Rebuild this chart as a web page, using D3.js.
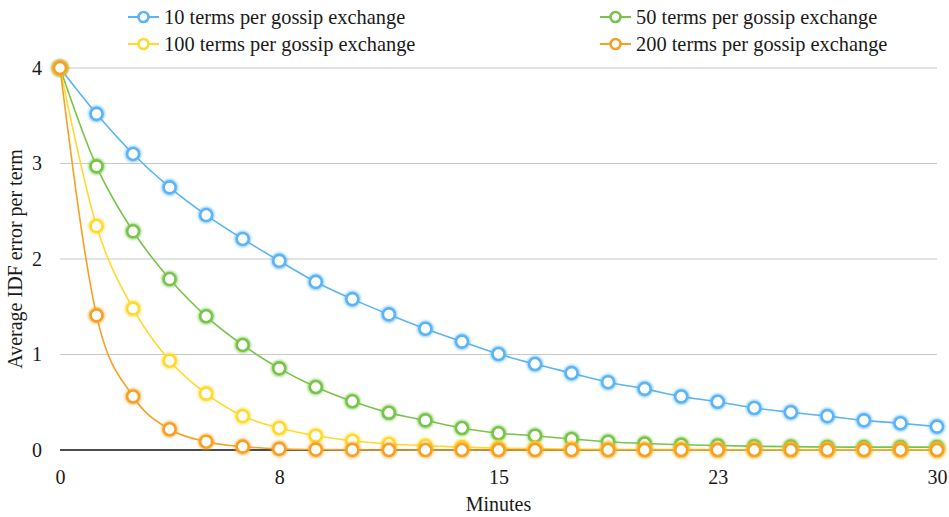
<!DOCTYPE html>
<html>
<head>
<meta charset="utf-8">
<script src="https://cdn.jsdelivr.net/npm/d3@7/dist/d3.min.js"></script>
<style>
  html, body { margin: 0; padding: 0; background: #fff; }
  svg { display: block; }
</style>
</head>
<body>
<svg id="chart" width="949" height="517"></svg>
<script>
// Minutes sampled every 1.25 min over half an hour
const minutes = d3.range(0, 25).map(i => i * 1.25);

const seriesNames = [
  "10 terms per gossip exchange",
  "50 terms per gossip exchange",
  "100 terms per gossip exchange",
  "200 terms per gossip exchange"
];
const seriesColors = ["#5AB4F5", "#78C44B", "#FFD92E", "#F7A024"];

const err10 = [4.00, 3.52, 3.10, 2.75, 2.46, 2.21, 1.98, 1.76, 1.58, 1.42, 1.27, 1.135, 1.005,
               0.90, 0.805, 0.71, 0.64, 0.56, 0.505, 0.44, 0.395, 0.355, 0.31, 0.28, 0.245];
const err50 = [4.00, 2.97, 2.29, 1.79, 1.40, 1.10, 0.855, 0.66, 0.51, 0.39, 0.31, 0.23, 0.175,
               0.15, 0.115, 0.087, 0.068, 0.055, 0.047, 0.04, 0.035, 0.032, 0.03, 0.03, 0.03];
const err100 = [4.00, 2.345, 1.48, 0.935, 0.59, 0.355, 0.23, 0.15, 0.097, 0.063, 0.045, 0.03, 0.02,
                0.014, 0.01, 0.007, 0.005, 0.004, 0.003, 0.002, 0.002, 0.001, 0.001, 0.001, 0.001];
const err200 = [4.00, 1.41, 0.56, 0.217, 0.087, 0.035, 0.012, 0.004, 0.001, 0, 0, 0, 0,
                0, 0, 0, 0, 0, 0, 0, 0, 0, 0, 0, 0];

const seriesValues = [err10, err50, err100, err200];

const xTickValues = [0, 7.5, 15, 22.5, 30];
const yTickValues = [0, 1, 2, 3, 4];

const FONT = '"Liberation Serif", "Times New Roman", serif';
const TEXT_COLOR = "#1a1a1a";

const svg = d3.select("#chart");
const margin = { left: 60, right: 12, top: 68, bottom: 67 };
const W = 949, H = 517;

const x = d3.scaleLinear().domain([0, 30]).range([margin.left, W - margin.right]);
const y = d3.scaleLinear().domain([0, 4]).range([H - margin.bottom, margin.top]);

// horizontal gridlines
svg.append("g")
  .selectAll("line")
  .data(yTickValues.filter(v => v > 0))
  .join("line")
  .attr("x1", x(0)).attr("x2", x(30))
  .attr("y1", d => y(d)).attr("y2", d => y(d))
  .attr("stroke", "#c8c8c8").attr("stroke-width", 1.2);

// y axis labels
const yAxis = d3.axisLeft(y).tickValues(yTickValues).tickFormat(d3.format("d")).tickSize(0).tickPadding(18);
const gy = svg.append("g").attr("transform", `translate(${x(0)},0)`).call(yAxis);
gy.select(".domain").remove();
gy.selectAll("text").attr("fill", TEXT_COLOR)
  .style("font-family", FONT).style("font-size", "20px");

// x axis labels
const xAxis = d3.axisBottom(x).tickValues(xTickValues).tickFormat(d => Math.round(d)).tickSize(0).tickPadding(20);
const gx = svg.append("g").attr("transform", `translate(0,${y(0)})`).call(xAxis);
gx.select(".domain").remove();
gx.selectAll("text").attr("fill", TEXT_COLOR)
  .style("font-family", FONT).style("font-size", "20px");

// baseline
svg.append("line")
  .attr("x1", x(0)).attr("x2", x(30))
  .attr("y1", y(0)).attr("y2", y(0))
  .attr("stroke", "#111").attr("stroke-width", 1.5);

// axis titles
svg.append("text")
  .attr("x", (x(0) + x(30)) / 2).attr("y", 511)
  .attr("text-anchor", "middle").attr("fill", TEXT_COLOR)
  .style("font-family", FONT).style("font-size", "20px")
  .text("Minutes");
svg.append("text")
  .attr("transform", `translate(22,${(y(0) + y(4)) / 2}) rotate(-90)`)
  .attr("text-anchor", "middle").attr("fill", TEXT_COLOR)
  .style("font-family", FONT).style("font-size", "20px")
  .text("Average IDF error per term");

// soft glow for the markers
const defs = svg.append("defs");
defs.append("filter").attr("id", "glow").attr("x", "-50%").attr("y", "-50%").attr("width", "200%").attr("height", "200%")
  .append("feGaussianBlur").attr("stdDeviation", 1.1);

const line = d3.line()
  .x((d, i) => x(minutes[i]))
  .y(d => y(d))
  .curve(d3.curveMonotoneX);

// lines
seriesValues.forEach((vals, s) => {
  svg.append("path")
    .datum(vals)
    .attr("d", line)
    .attr("fill", "none")
    .attr("stroke", seriesColors[s])
    .attr("stroke-width", 1.6);
});

// markers
seriesValues.forEach((vals, s) => {
  const g = svg.append("g");
  g.selectAll("circle.halo")
    .data(vals)
    .join("circle")
    .attr("class", "halo")
    .attr("cx", (d, i) => x(minutes[i])).attr("cy", d => y(d))
    .attr("r", 6.3)
    .attr("fill", "none")
    .attr("stroke", seriesColors[s])
    .attr("stroke-opacity", 0.6)
    .attr("stroke-width", 4.5)
    .attr("filter", "url(#glow)");
  g.selectAll("circle.pt")
    .data(vals)
    .join("circle")
    .attr("class", "pt")
    .attr("cx", (d, i) => x(minutes[i])).attr("cy", d => y(d))
    .attr("r", 6)
    .attr("fill", "#fff")
    .attr("stroke", seriesColors[s])
    .attr("stroke-width", 2.6);
});

// legend: two rows, two columns
const legendPos = [[128, 17], [600, 17], [128, 44], [600, 44]];
seriesNames.forEach((name, s) => {
  const [lx, ly] = legendPos[s];
  const g = svg.append("g").attr("transform", `translate(${lx},${ly})`);
  g.append("line").attr("x1", 0).attr("x2", 31).attr("y1", 0).attr("y2", 0)
    .attr("stroke", seriesColors[s]).attr("stroke-width", 2);
  g.append("circle").attr("cx", 15.5).attr("cy", 0).attr("r", 5)
    .attr("fill", "#fff").attr("stroke", seriesColors[s]).attr("stroke-width", 2.6);
  g.append("text").attr("x", 36).attr("y", 0).attr("dy", "0.33em")
    .attr("fill", TEXT_COLOR)
    .style("font-family", FONT).style("font-size", "20.4px")
    .text(name);
});
</script>
</body>
</html>
